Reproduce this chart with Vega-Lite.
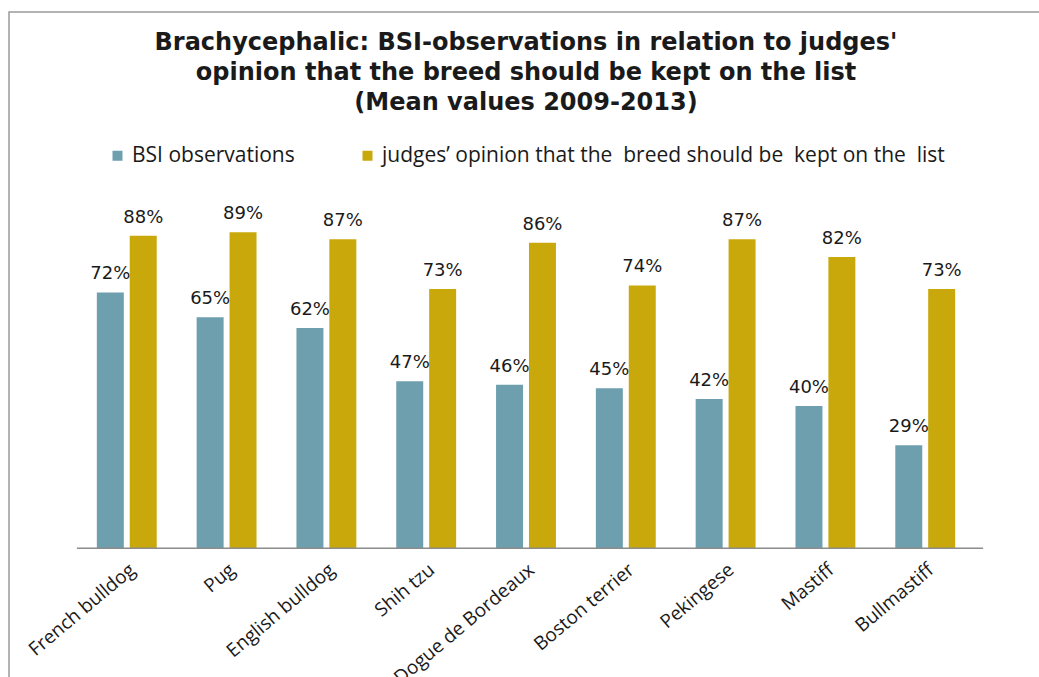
{
  "$schema": "https://vega.github.io/schema/vega-lite/v6.json",
  "autosize": "none",
  "padding": {"left": 9, "top": 12, "right": 0, "bottom": 0},
  "width": 1034,
  "height": 670,
  "background": "white",
  "config": {"view": {"stroke": "#9a9a9a", "strokeWidth": 1.5}, "font": "Open Sans"},
  "title": {
    "text": ["Brachycephalic: BSI-observations in relation to judges'", "opinion that the breed should be kept on the list", "(Mean values 2009-2013)"],
    "font": "DejaVu Sans",
    "fontSize": 24,
    "fontWeight": "bold",
    "color": "#1a1a1a",
    "lineHeight": 30,
    "offset": -103,
    "anchor": "middle"
  },
  "data": {
    "values": [
      {"breed": "French bulldog", "series": "BSI observations", "value": 0.72},
      {"breed": "French bulldog", "series": "judges’ opinion that the \u00a0breed should be \u00a0kept on the \u00a0list", "value": 0.88},
      {"breed": "Pug", "series": "BSI observations", "value": 0.65},
      {"breed": "Pug", "series": "judges’ opinion that the \u00a0breed should be \u00a0kept on the \u00a0list", "value": 0.89},
      {"breed": "English bulldog", "series": "BSI observations", "value": 0.62},
      {"breed": "English bulldog", "series": "judges’ opinion that the \u00a0breed should be \u00a0kept on the \u00a0list", "value": 0.87},
      {"breed": "Shih tzu", "series": "BSI observations", "value": 0.47},
      {"breed": "Shih tzu", "series": "judges’ opinion that the \u00a0breed should be \u00a0kept on the \u00a0list", "value": 0.73},
      {"breed": "Dogue de Bordeaux", "series": "BSI observations", "value": 0.46},
      {"breed": "Dogue de Bordeaux", "series": "judges’ opinion that the \u00a0breed should be \u00a0kept on the \u00a0list", "value": 0.86},
      {"breed": "Boston terrier", "series": "BSI observations", "value": 0.45},
      {"breed": "Boston terrier", "series": "judges’ opinion that the \u00a0breed should be \u00a0kept on the \u00a0list", "value": 0.74},
      {"breed": "Pekingese", "series": "BSI observations", "value": 0.42},
      {"breed": "Pekingese", "series": "judges’ opinion that the \u00a0breed should be \u00a0kept on the \u00a0list", "value": 0.87},
      {"breed": "Mastiff", "series": "BSI observations", "value": 0.40},
      {"breed": "Mastiff", "series": "judges’ opinion that the \u00a0breed should be \u00a0kept on the \u00a0list", "value": 0.82},
      {"breed": "Bullmastiff", "series": "BSI observations", "value": 0.29},
      {"breed": "Bullmastiff", "series": "judges’ opinion that the \u00a0breed should be \u00a0kept on the \u00a0list", "value": 0.73}
    ]
  },
  "layer": [
    {
      "mark": {"type": "bar"},
      "encoding": {
        "x": {
          "field": "breed", "type": "nominal", "sort": null,
          "scale": {"paddingInner": 0.4, "paddingOuter": 0.88},
          "axis": {
            "title": null, "domain": false, "ticks": false, "grid": false,
            "labelAngle": -40, "labelFont": "Open Sans",
            "labelFontSize": 19, "labelColor": "#1a1a1a", "offset": -134, "labelPadding": 12
          }
        },
        "xOffset": {"field": "series", "type": "nominal", "sort": null, "scale": {"paddingInner": 0.18, "paddingOuter": 0}},
        "y": {"field": "value", "type": "quantitative", "scale": {"domain": [-0.377, 1.51], "nice": false, "zero": false}, "axis": null},
        "y2": {"datum": 0},
        "color": {
          "field": "series", "type": "nominal", "sort": null,
          "scale": {"range": ["#6e9fae", "#c8a80a"]},
          "legend": {
            "orient": "none", "legendX": 98, "legendY": 133, "direction": "horizontal",
            "title": null, "symbolType": "square", "symbolSize": 100, "symbolStrokeWidth": 0,
            "labelFont": "Open Sans", "labelFontSize": 21, "labelColor": "#1a1a1a", "labelLimit": 800,
            "columnPadding": 62, "labelOffset": 4
          }
        }
      }
    },
    {
      "mark": {"type": "text", "font": "DejaVu Sans", "fontSize": 18, "dy": -13, "baseline": "alphabetic", "color": "#1a1a1a"},
      "encoding": {
        "x": {"field": "breed", "type": "nominal", "sort": null},
        "xOffset": {"field": "series", "type": "nominal", "sort": null},
        "y": {"field": "value", "type": "quantitative"},
        "text": {"field": "value", "type": "quantitative", "format": ".0%"}
      }
    },
    {
      "data": {"values": [{}]},
      "mark": {"type": "rule", "color": "#8c8c8c", "strokeWidth": 1.5},
      "encoding": {
        "x": {"datum": "French bulldog", "bandPosition": -0.333},
        "x2": {"datum": "Bullmastiff", "bandPosition": 1.467},
        "y": {"datum": 0}
      }
    }
  ]
}
